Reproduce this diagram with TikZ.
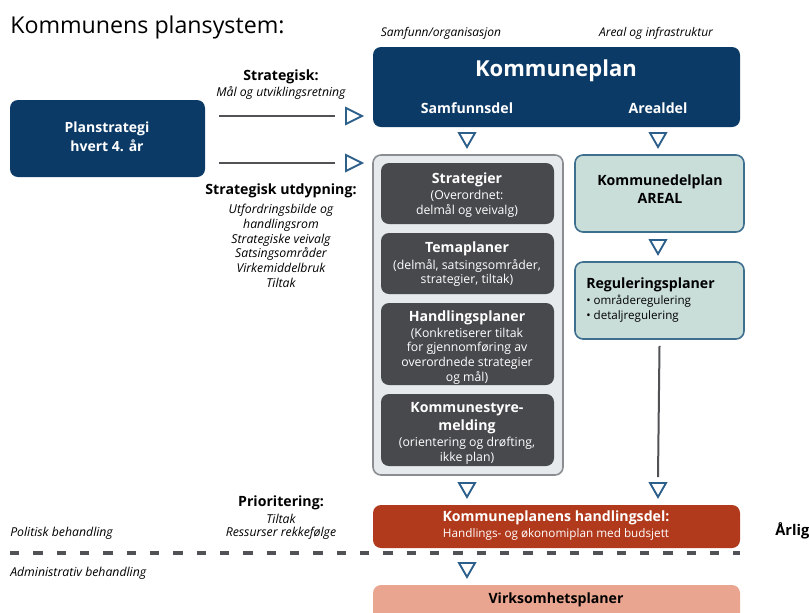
\documentclass[tikz,border=0pt]{standalone}
\usepackage{fontspec}
\setmainfont{Open Sans}
\usetikzlibrary{fit}
\definecolor{navy}{HTML}{0B3A66}
\definecolor{boxgray}{HTML}{47494C}
\definecolor{contfill}{HTML}{E7EAED}
\definecolor{contline}{HTML}{8A8D91}
\definecolor{tealfill}{HTML}{C9DED9}
\definecolor{tealline}{HTML}{3F6F8F}
\definecolor{triline}{HTML}{2D5F8B}
\definecolor{redbox}{HTML}{B23A1C}
\definecolor{salmon}{HTML}{E9A590}
\definecolor{dashgray}{HTML}{505256}
\newcommand{\fsz}[2]{\fontsize{#1pt}{#2pt}\selectfont}
\begin{document}
\begin{tikzpicture}[x=0.75pt,y=-0.75pt,
  boxbase/.style={rounded corners=6pt, inner sep=0pt},
  navybox/.style={boxbase, fill=navy},
  graybox/.style={boxbase, fill=boxgray},
  contbox/.style={boxbase, fill=contfill, draw=contline, line width=1.2pt},
  tealbox/.style={boxbase, fill=tealfill, draw=tealline, line width=1.2pt},
  redb/.style={boxbase, fill=redbox},
  salb/.style={boxbase, fill=salmon},
  txt/.style={inner sep=0pt, align=center},
  wtxt/.style={txt, text=white},
  head/.style={font=\fsz{10.6}{14}\bfseries},
  sub/.style={font=\fsz{9.2}{11}},
  ital/.style={font=\fsz{9.2}{11}\itshape},
  conn/.style={draw=dashgray, line width=1.5pt},
  tri/.style={draw=triline, line width=1.4pt, line join=miter, fill=white},
  tridown/.pic={\path[tri] (-8,-7) -- (8,-7) -- (0,7) -- cycle;},
  triright/.pic={\path[tri] (-8,-8) -- (8,0) -- (-8,8) -- cycle;}
]
\useasboundingbox (0,0) rectangle (809,612);

% title
\node[anchor=base west, inner sep=0pt, font=\fsz{17.4}{20}] (title) at (10,33) {Kommunens plansystem:};
\node[txt, font=\fsz{9}{11}\itshape] (samorg) at (441,33) {Samfunn/organisasjon};
\node[txt, font=\fsz{9}{11}\itshape] (arinf) at (656,33) {Areal og infrastruktur};

% Kommuneplan
\node[navybox, fit={(373,47) (740,127)}] (kp) {};
\node[wtxt, font=\fsz{16.5}{20}\bfseries] (kpt) at (556,71) {Kommuneplan};
\node[wtxt, head] (samdel) at (467,108) {Samfunnsdel};
\node[wtxt, head] (areadel) at (658,108) {Arealdel};

% Planstrategi
\node[navybox, fit={(10,100) (205,177)}] (ps) {};
\node[wtxt, font=\fsz{10.5}{14.5}\bfseries] (pst) at (107,137) {Planstrategi\\hvert 4. år};

% Strategisk labels
\node[txt, head] (strat) at (281,77) {Strategisk:};
\node[txt, ital] (malog) at (281,93) {Mål og utviklingsretning};

\node[txt, head] (utd) at (281,191) {Strategisk utdypning:};
\node[txt, ital] (utdl) at (281,246) {Utfordringsbilde og\\handlingsrom\\Strategiske veivalg\\Satsingsområder\\Virkemiddelbruk\\Tiltak};

% connectors from Planstrategi
\coordinate (l1s) at (219,116);
\coordinate (l1e) at (335,116);
\coordinate (l2s) at (219,163);
\coordinate (l2e) at (335,163);
\draw[conn] (l1s) -- (l1e);
\draw[conn] (l2s) -- (l2e);
\pic at (354,116) {triright};
\pic at (354,163) {triright};

% down triangles under Kommuneplan
\pic at (467,140) {tridown};
\pic at (658,140) {tridown};

% container
\node[contbox, fit={(373,155) (563,475)}] (cont) {};
\node[graybox, fit={(381,163) (554,224)}] (b1) {};
\node[graybox, fit={(381,233) (554,294)}] (b2) {};
\node[graybox, fit={(381,303) (554,385)}] (b3) {};
\node[graybox, fit={(381,394) (554,466)}] (b4) {};

\node[wtxt, head] (b1a) at (467,180) {Strategier};
\node[wtxt, sub] (b1b) at (467,204) {(Overordnet:\\delmål og veivalg)};

\node[wtxt, head] (b2a) at (467,249) {Temaplaner};
\node[wtxt, sub] (b2b) at (467,273) {(delmål, satsingsområder,\\strategier, tiltak)};

\node[wtxt, head] (b3a) at (467,318) {Handlingsplaner};
\node[wtxt, sub] (b3b) at (467,356) {(Konkretiserer tiltak\\for gjennomføring av\\overordnede strategier\\og mål)};

\node[wtxt, head] (b4a) at (467,418) {Kommunestyre-\\melding};
\node[wtxt, sub] (b4b) at (467,451) {(orientering og drøfting,\\ikke plan)};

% Areal side
\node[tealbox, fit={(575,155) (744,232)}] (kdp) {};
\node[txt, font=\fsz{10.6}{13.5}\bfseries] (kdpt) at (660,189) {Kommunedelplan\\AREAL};
\pic at (658,247) {tridown};
\node[tealbox, fit={(575,262) (744,339)}] (reg) {};
\node[txt, anchor=west, head] (regt) at (586,285) {Reguleringsplaner};
\node[txt, anchor=west, align=left, font=\fsz{8.7}{11.2}] (regb) at (586,309) {• områderegulering\\• detaljregulering};

\coordinate (regend) at (658,477);
\draw[conn] ([yshift=-4.5pt]reg.south) -- (regend);
\pic at (658,490) {tridown};
\pic at (467,490) {tridown};

% handlingsdel
\node[redb, fit={(373,505) (740,548)}] (hd) {};
\node[wtxt, head] (hdt) at (556,518) {Kommuneplanens handlingsdel:};
\node[wtxt, font=\fsz{8.8}{11}] (hds) at (556,534) {Handlings- og økonomiplan med budsjett};
\node[txt, anchor=west, font=\fsz{11}{13}\bfseries] (arlig) at (775,531) {Årlig};

\node[txt, head] (prio) at (281,503) {Prioritering:};
\node[txt, ital] (tilt) at (281,519) {Tiltak};
\node[txt, ital] (ress) at (281,533) {Ressurser rekkefølge};
\node[txt, anchor=west, ital] (pol) at (10,533) {Politisk behandling};

% dashed line
\coordinate (dl1) at (10,553);
\coordinate (dl2) at (740,553);
\draw[draw=dashgray, line width=2.6pt, dash pattern=on 7pt off 10.5pt] (dl1) -- (dl2);

\node[txt, anchor=west, ital] (adm) at (10,573) {Administrativ behandling};
\pic at (467,570) {tridown};

\node[salb, fit={(373,585) (740,630)}] (vp) {};
\node[txt, head] (vpt) at (556,600) {Virksomhetsplaner};
\end{tikzpicture}
\end{document}
